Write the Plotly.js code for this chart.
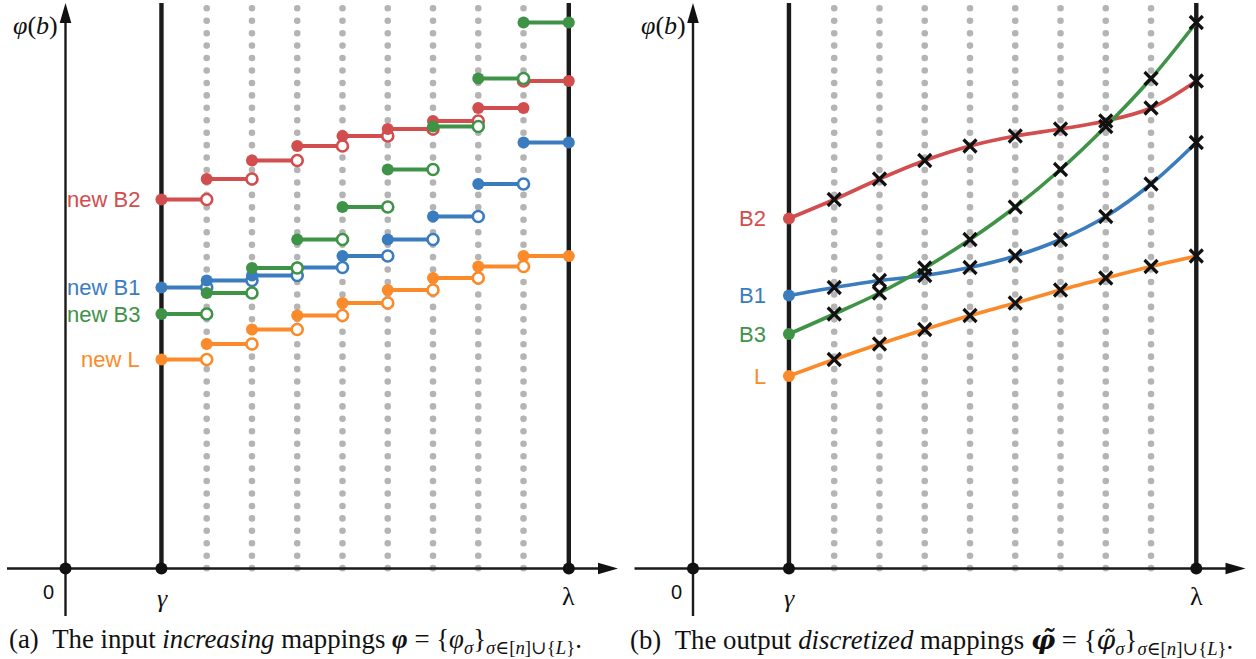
<!DOCTYPE html>
<html>
<head>
<meta charset="utf-8">
<script src="https://cdn.plot.ly/plotly-3.0.1.min.js"></script>
<style>
  html, body { margin: 0; padding: 0; background: #ffffff; }
  #chart { width: 1256px; height: 659px; }
  #chart path[style*="dasharray"] { stroke-linecap: round !important; }
</style>
</head>
<body>
<div id="chart"></div>
<script>
// ---------------- data ----------------
// b positions: origin 0, gamma and lambda, 9 equal sub-intervals between them
const B_ORIGIN = 0;
const B_GAMMA = 2.12;
const B_LAMBDA = 11.12;
const N_INTERVALS = 9;

const seriesKeys   = ['L', 'B1', 'B2', 'B3'];
const labelsA      = ['new L', 'new B1', 'new B2', 'new B3'];
const labelsB      = ['L', 'B1', 'B2', 'B3'];

// panel (a): value of each increasing step mapping on interval k (k = 0..8)
const stepL  = [20.9, 22.45, 23.9, 25.3, 26.55, 27.85, 29.05, 30.2, 31.25];
const stepB1 = [28.1, 28.8, 29.3, 30.1, 31.25, 32.9, 35.2, 38.45, 42.6];
const stepB2 = [36.9, 38.95, 40.8, 42.25, 43.25, 43.95, 44.75, 46.05, 48.75];
const stepB3 = [25.45, 27.55, 30.05, 32.9, 36.15, 39.9, 44.2, 49.0, 54.6];

// grid points where the value is held by the left interval (closed on the left piece)
const heldLeftL  = [];
const heldLeftB1 = [];
const heldLeftB2 = [8];
const heldLeftB3 = [];

// panel (b): discretized mappings, value at gamma then at each grid point 1..9
const startL  = 19.25;
const startB1 = 27.3;
const startB2 = 35.0;
const startB3 = 23.45;

const axisTickLabels = ['0', 'γ', 'λ'];

// ---------------- styling ----------------
const colors = { L: '#fb8a2a', B1: '#3b7cbf', B2: '#d24d4e', B3: '#3e9347' };
const PX_PER_B = 45.26;   // horizontal pixels per b unit
const PX_PER_V = 10;      // vertical pixels per value unit
const X0A = 65.5, X0B = 693, Y0 = 568.5; // pixel position of origin in each panel
const W = 1256, H = 659;

const steps = { L: stepL, B1: stepB1, B2: stepB2, B3: stepB3 };
const heldLeft = { L: heldLeftL, B1: heldLeftB1, B2: heldLeftB2, B3: heldLeftB3 };
const starts = { L: startL, B1: startB1, B2: startB2, B3: startB3 };
const STEP = (B_LAMBDA - B_GAMMA) / N_INTERVALS;

const vTop = (Y0 - 3) / PX_PER_V;        // top of vertical lines
const vDotTop = (Y0 - 8.3) / PX_PER_V;   // first dot of dotted grid lines
const vYAxisBottom = (Y0 - 616) / PX_PER_V;
const bXAxisLeft = (7 - X0A) / PX_PER_B;
const bXAxisTip = (618 - X0A) / PX_PER_B;

const traces = [];

// ---------- panel (a) ----------
const drawOrder = ['L', 'B1', 'B2', 'B3'];
drawOrder.forEach(key => {
  const vals = steps[key];
  const lx = [], ly = [], fx = [], fy = [], ox = [], oy = [];
  vals.forEach((v, k) => {
    const a = B_GAMMA + k * STEP, b = B_GAMMA + (k + 1) * STEP;
    lx.push(a, b, null); ly.push(v, v, null);
    const last = k === vals.length - 1;
    if (heldLeft[key].includes(k)) { ox.push(a); oy.push(v); } else { fx.push(a); fy.push(v); }
    if (last || heldLeft[key].includes(k + 1)) { fx.push(b); fy.push(v); } else { ox.push(b); oy.push(v); }
  });
  traces.push({ x: lx, y: ly, xaxis: 'x', yaxis: 'y', mode: 'lines', type: 'scatter',
    line: { color: colors[key], width: 4 }, hoverinfo: 'skip', cliponaxis: false });
  traces.push({ x: ox, y: oy, xaxis: 'x', yaxis: 'y', mode: 'markers', type: 'scatter',
    marker: { symbol: 'circle', size: 11, color: '#ffffff', line: { color: colors[key], width: 2.6 } },
    hoverinfo: 'skip', cliponaxis: false });
  traces.push({ x: fx, y: fy, xaxis: 'x', yaxis: 'y', mode: 'markers', type: 'scatter',
    marker: { symbol: 'circle', size: 12, color: colors[key] }, hoverinfo: 'skip', cliponaxis: false });
});

// ---------- panel (b) ----------
const gridB = [];
for (let k = 0; k <= N_INTERVALS; k++) gridB.push(B_GAMMA + k * STEP);
drawOrder.forEach(key => {
  traces.push({ x: gridB, y: [starts[key]].concat(steps[key]), xaxis: 'x2', yaxis: 'y2',
    mode: 'lines', type: 'scatter', line: { color: colors[key], width: 3.6, shape: 'spline', smoothing: 1 },
    hoverinfo: 'skip', cliponaxis: false });
});
drawOrder.forEach(key => {
  traces.push({ x: [B_GAMMA], y: [starts[key]], xaxis: 'x2', yaxis: 'y2', mode: 'markers', type: 'scatter',
    marker: { symbol: 'circle', size: 12, color: colors[key] }, hoverinfo: 'skip', cliponaxis: false });
});
drawOrder.forEach(key => {
  traces.push({ x: gridB.slice(1), y: steps[key], xaxis: 'x2', yaxis: 'y2', mode: 'markers', type: 'scatter',
    marker: { symbol: 'x-thin', size: 13, color: '#111111', line: { color: '#111111', width: 3.2 } },
    hoverinfo: 'skip', cliponaxis: false });
});

// axis points (black dots) on both panels
[['x', 'y'], ['x2', 'y2']].forEach(([xa, ya]) => {
  traces.push({ x: [B_ORIGIN, B_GAMMA, B_LAMBDA], y: [0, 0, 0], xaxis: xa, yaxis: ya, mode: 'markers',
    type: 'scatter', marker: { symbol: 'circle', size: 12, color: '#111111' }, hoverinfo: 'skip', cliponaxis: false });
});

// ---------- shapes: axes, arrows, gamma/lambda lines, dotted grid ----------
const shapes = [];
[['x', 'y'], ['x2', 'y2']].forEach(([xr, yr]) => {
  for (let k = 1; k < N_INTERVALS; k++) {
    const bx = B_GAMMA + k * STEP;
    shapes.push({ type: 'line', xref: xr, yref: yr, x0: bx, x1: bx, y0: vDotTop, y1: 0, layer: 'below',
      line: { color: '#b4b4b4', width: 6.6, dash: '0.001px,12.44px' } });
  }
  [B_GAMMA, B_LAMBDA].forEach(bx => {
    shapes.push({ type: 'line', xref: xr, yref: yr, x0: bx, x1: bx, y0: 0, y1: vTop, layer: 'below',
      line: { color: '#1a1a1a', width: 4.4 } });
  });
  // y axis
  shapes.push({ type: 'line', xref: xr, yref: yr, x0: B_ORIGIN, x1: B_ORIGIN, y0: vYAxisBottom, y1: vTop - 1.2,
    layer: 'below', line: { color: '#1a1a1a', width: 2.4 } });
  shapes.push({ type: 'path', xref: xr, yref: yr, xsizemode: 'pixel', ysizemode: 'pixel',
    xanchor: B_ORIGIN, yanchor: vTop, path: 'M0,0 L-5.8,-20 L5.8,-20 Z', layer: 'below',
    fillcolor: '#111111', line: { width: 0 } });
  // x axis
  shapes.push({ type: 'line', xref: xr, yref: yr, x0: bXAxisLeft, x1: bXAxisTip - 12 / PX_PER_B, y0: 0, y1: 0,
    layer: 'below', line: { color: '#1a1a1a', width: 2.4 } });
  shapes.push({ type: 'path', xref: xr, yref: yr, xsizemode: 'pixel', ysizemode: 'pixel',
    xanchor: bXAxisTip, yanchor: 0, path: 'M0,0 L-20,5.8 L-20,-5.8 Z', layer: 'below',
    fillcolor: '#111111', line: { width: 0 } });
});

// ---------- annotations ----------
const annotations = [];
const serifFont = 'Liberation Serif, DejaVu Serif, serif';
const sansFont = 'Liberation Sans, Arial, sans-serif';
[['x', 'y'], ['x2', 'y2']].forEach(([xr, yr]) => {
  annotations.push({ xref: xr, yref: yr, x: B_ORIGIN, y: (Y0 - 25) / PX_PER_V, xshift: -30, showarrow: false,
    text: '<i>φ</i>(<i>b</i>)', font: { family: serifFont, size: 26, color: '#111111' } });
  annotations.push({ xref: xr, yref: yr, x: B_ORIGIN, y: 0, xshift: -17, yshift: -23, showarrow: false,
    text: axisTickLabels[0], font: { family: sansFont, size: 20, color: '#111111' } });
  annotations.push({ xref: xr, yref: yr, x: B_GAMMA, y: 0, xshift: 1, yshift: -30, showarrow: false,
    text: '<i>' + axisTickLabels[1] + '</i>', font: { family: serifFont, size: 26, color: '#111111' } });
  annotations.push({ xref: xr, yref: yr, x: B_LAMBDA, y: 0, yshift: -28, showarrow: false,
    text: axisTickLabels[2], font: { family: serifFont, size: 26, color: '#111111' } });
});
seriesKeys.forEach((key, i) => {
  annotations.push({ xref: 'x', yref: 'y', x: B_GAMMA, y: steps[key][0], xshift: -19, xanchor: 'right',
    yanchor: 'middle', showarrow: false, text: labelsA[i], font: { family: sansFont, size: 22, color: colors[key] } });
  annotations.push({ xref: 'x2', yref: 'y2', x: B_GAMMA, y: starts[key], xshift: -21, xanchor: 'right',
    yanchor: 'middle', showarrow: false, text: labelsB[i], font: { family: sansFont, size: 22, color: colors[key] } });
});
const NB = '\u00A0';
const tildePhi = '<span style="font-family:\'DejaVu Serif\'">φ\u0303</span>';
annotations.push({ xref: 'paper', yref: 'paper', x: 7 / W, y: (H - 641) / H, xanchor: 'left', yanchor: 'middle',
  showarrow: false, font: { family: serifFont, size: 26.8, color: '#111111' },
  text: '(a)' + NB + NB + 'The input <i>increasing</i> mappings <b><i>φ</i></b> = {<i>φ</i><sub><i>σ</i></sub>}<sub><i>σ</i>∈[<i>n</i>]∪{<i>L</i>}</sub>.' });
annotations.push({ xref: 'paper', yref: 'paper', x: 628 / W, y: (H - 641) / H, xanchor: 'left', yanchor: 'middle',
  showarrow: false, font: { family: serifFont, size: 26.8, color: '#111111' },
  text: '(b)' + NB + NB + 'The output <i>discretized</i> mappings <b><i>' + tildePhi + '</i></b> = {<i>' + tildePhi + '</i><sub><i>σ</i></sub>}<sub><i>σ</i>∈[<i>n</i>]∪{<i>L</i>}</sub>.' });

const vMin = (Y0 - H) / PX_PER_V, vMax = Y0 / PX_PER_V;
const layout = {
  width: W, height: H,
  margin: { l: 0, r: 0, t: 0, b: 0, pad: 0 },
  paper_bgcolor: '#ffffff', plot_bgcolor: 'rgba(0,0,0,0)',
  showlegend: false,
  xaxis:  { domain: [0, 0.5], anchor: 'y', range: [(0 - X0A) / PX_PER_B, (W / 2 - X0A) / PX_PER_B], visible: false, fixedrange: true },
  yaxis:  { domain: [0, 1], anchor: 'x', range: [vMin, vMax], visible: false, fixedrange: true },
  xaxis2: { domain: [0.5, 1], anchor: 'y2', range: [(W / 2 - X0B) / PX_PER_B, (W - X0B) / PX_PER_B], visible: false, fixedrange: true },
  yaxis2: { domain: [0, 1], anchor: 'x2', range: [vMin, vMax], visible: false, fixedrange: true },
  shapes: shapes,
  annotations: annotations
};

Plotly.newPlot('chart', traces, layout, { staticPlot: true, displayModeBar: false });
</script>
</body>
</html>
